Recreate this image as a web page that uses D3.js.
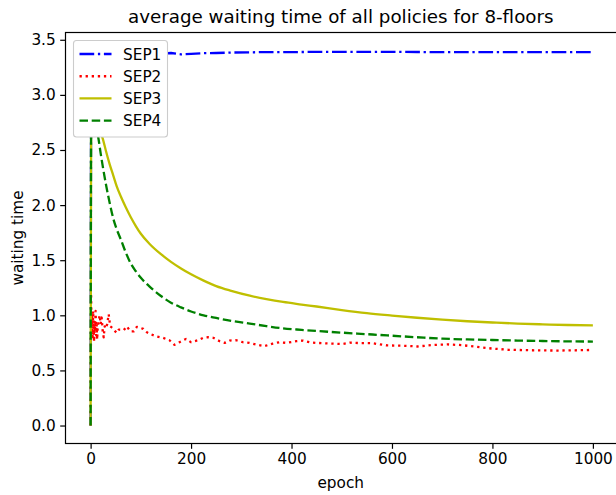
<!DOCTYPE html>
<html>
<head>
<meta charset="utf-8">
<script src="https://cdn.jsdelivr.net/npm/d3@7"></script>
<style>
  body { margin: 0; background: #fff; }
  text { font-family: "DejaVu Sans", sans-serif; fill: #000; }
</style>
</head>
<body>
<div id="chart"></div>
<script>
// epochs sampled for the smooth curves (SEP1, SEP3, SEP4)
var epochs = [0, 1, 3, 6, 10, 15, 20, 25, 30, 38, 45, 52, 60, 70, 80, 90, 100, 117, 140, 160,
    180, 200, 225, 250, 280, 317, 350, 383, 420, 450, 500, 550, 600, 650, 700, 750, 800, 850, 900, 950, 1000];

var sep1 = [0, 3.30, 3.35, 3.36, 3.37, 3.37, 3.37, 3.37, 3.37, 3.37, 3.37, 3.37, 3.37, 3.37, 3.37, 3.37, 3.37, 3.37, 3.375, 3.38,
    3.368, 3.372, 3.378, 3.38, 3.384, 3.386, 3.388, 3.388, 3.389, 3.39, 3.39, 3.39, 3.39, 3.389, 3.388, 3.388, 3.388, 3.388, 3.388, 3.388, 3.388];

var sep3 = [0, 2.72, 2.85, 2.86, 2.80, 2.72, 2.66, 2.59, 2.50, 2.37, 2.27, 2.17, 2.08, 1.98, 1.89, 1.81, 1.74, 1.65, 1.555, 1.485,
    1.425, 1.372, 1.315, 1.265, 1.222, 1.178, 1.147, 1.121, 1.098, 1.080, 1.048, 1.020, 0.998, 0.978, 0.960, 0.946, 0.935, 0.925, 0.918, 0.912, 0.908];

var sep4 = [0, 2.68, 2.80, 2.80, 2.72, 2.62, 2.47, 2.33, 2.20, 2.02, 1.88, 1.78, 1.69, 1.57, 1.47, 1.40, 1.34, 1.263, 1.175, 1.115,
    1.072, 1.035, 1.000, 0.976, 0.950, 0.925, 0.902, 0.882, 0.868, 0.858, 0.843, 0.829, 0.815, 0.801, 0.788, 0.781, 0.776, 0.771, 0.767, 0.764, 0.762];

// SEP2 is noisy, so it gets its own denser epochs
var epochs2 = [0, 1, 2, 3, 4, 5, 6, 7, 8, 9, 10, 11, 12, 13, 14, 16, 18, 20, 22, 24, 26, 28, 30, 33, 36, 39, 42, 46, 52, 56,
    60, 66, 72, 79, 86, 92, 99, 105, 112, 119, 130, 144, 157, 167, 177, 190, 200, 214, 224, 234, 244, 257, 267, 277, 290,
    303, 316, 330, 346, 363, 376, 390, 410, 423, 436, 449, 476, 502, 516, 536, 559, 590, 630, 650, 680, 711, 738, 764, 798,
    832, 879, 932, 1000];

var sep2 = [0, 1.20, 0.80, 0.98, 0.78, 1.04, 0.90, 0.76, 0.95, 0.85, 1.04, 0.82, 0.92, 0.78, 0.88, 0.95, 1.00, 0.92, 0.98, 0.86, 0.80, 0.90, 0.88, 0.92, 1.01, 0.90, 0.89, 0.87, 0.84, 0.87,
    0.87, 0.865, 0.90, 0.855, 0.855, 0.895, 0.886, 0.877, 0.846, 0.83, 0.81, 0.796, 0.774, 0.732, 0.756, 0.786, 0.756, 0.774, 0.796, 0.801, 0.796, 0.765, 0.750, 0.771, 0.774,
    0.756, 0.75, 0.735, 0.72, 0.744, 0.756, 0.75, 0.765, 0.771, 0.756, 0.75, 0.744, 0.740, 0.752, 0.748, 0.748, 0.727, 0.723, 0.717, 0.73, 0.736, 0.730, 0.717, 0.699,
    0.687, 0.683, 0.680, 0.686];

var seriesNames = ["SEP1", "SEP2", "SEP3", "SEP4"];
var xTicks = [0, 200, 400, 600, 800, 1000];
var yTicks = [0, 0.5, 1.0, 1.5, 2.0, 2.5, 3.0, 3.5];

var series = [
    { name: seriesNames[0], x: epochs, y: sep1, color: "#0000ff", dash: "14.7,3.7,2.3,3.7", smooth: false },
    { name: seriesNames[1], x: epochs2, y: sep2, color: "#ff0000", dash: "2.3,3.8", smooth: false },
    { name: seriesNames[2], x: epochs, y: sep3, color: "#bfbf00", dash: null, smooth: true },
    { name: seriesNames[3], x: epochs, y: sep4, color: "#008000", dash: "8.5,3.7", smooth: true }
];

var margin = { top: 32.5, right: 0, bottom: 51.5, left: 65.5 },
    width = 552.5,
    height = 411;

var root = d3.select("#chart")
    .append("svg")
    .attr("width", 616)
    .attr("height", 495);

var svg = root.append("g")
    .attr("transform", "translate(" + margin.left + "," + margin.top + ")");

var x = d3.scaleLinear()
    .domain([-50, 1050])
    .range([0, width]);

var y = d3.scaleLinear()
    .domain([-0.163, 3.566])
    .range([height, 0]);

// lines
series.forEach(function (s) {
    var pts = s.x.map((e, i) => [e, s.y[i]]);
    var line = d3.line()
        .x(d => x(d[0]))
        .y(d => y(d[1]))
        .curve(s.smooth ? d3.curveMonotoneX : d3.curveLinear);
    svg.append("path")
        .datum(pts)
        .attr("fill", "none")
        .attr("stroke", s.color)
        .attr("stroke-width", 2.3)
        .attr("stroke-linejoin", "round")
        .attr("stroke-linecap", "butt")
        .attr("stroke-dasharray", s.dash)
        .attr("d", line);
});

// axes
var xAxis = svg.append("g")
    .attr("transform", "translate(0," + height + ")")
    .call(d3.axisBottom(x).tickValues(xTicks).tickFormat(d3.format("d"))
        .tickSize(5.3).tickPadding(4.5).tickSizeOuter(0));

var yAxis = svg.append("g")
    .call(d3.axisLeft(y).tickValues(yTicks).tickFormat(d3.format(".1f"))
        .tickSize(5.3).tickPadding(4.5).tickSizeOuter(0));

[xAxis, yAxis].forEach(function (a) {
    a.select(".domain").remove();
    a.selectAll(".tick line").attr("stroke", "#000").attr("stroke-width", 1.2);
    a.selectAll(".tick text")
        .style("font-family", "DejaVu Sans")
        .style("font-size", "15.3px")
        .attr("fill", "#000");
});

// frame
svg.append("rect")
    .attr("x", 0)
    .attr("y", 0)
    .attr("width", width)
    .attr("height", height)
    .attr("fill", "none")
    .attr("stroke", "#000")
    .attr("stroke-width", 1.2);

// labels
root.append("text")
    .attr("x", margin.left + width / 2 - 1)
    .attr("y", 23)
    .attr("text-anchor", "middle")
    .style("font-size", "18.3px")
    .text("average waiting time of all policies for 8-floors");

root.append("text")
    .attr("x", margin.left + width / 2 - 1)
    .attr("y", 488)
    .attr("text-anchor", "middle")
    .style("font-size", "15.3px")
    .text("epoch");

root.append("text")
    .attr("transform", "translate(23," + (margin.top + height / 2) + ") rotate(-90)")
    .attr("text-anchor", "middle")
    .style("font-size", "15.3px")
    .text("waiting time");

// legend
var legend = root.append("g");
legend.append("rect")
    .attr("x", 73.5)
    .attr("y", 40.5)
    .attr("width", 94)
    .attr("height", 96.5)
    .attr("rx", 3)
    .attr("fill", "#fff")
    .attr("stroke", "#cccccc")
    .attr("stroke-width", 1.1);

var rowY = d3.scaleLinear().domain([0, 3]).range([54, 120.7]);

series.forEach(function (s, i) {
    legend.append("line")
        .attr("x1", 79.5)
        .attr("x2", 111.5)
        .attr("y1", rowY(i))
        .attr("y2", rowY(i))
        .attr("stroke", s.color)
        .attr("stroke-width", 2.3)
        .attr("stroke-dasharray", s.dash);
    legend.append("text")
        .attr("x", 123)
        .attr("y", rowY(i))
        .attr("dy", "0.36em")
        .style("font-size", "15.3px")
        .text(s.name);
});
</script>
</body>
</html>
